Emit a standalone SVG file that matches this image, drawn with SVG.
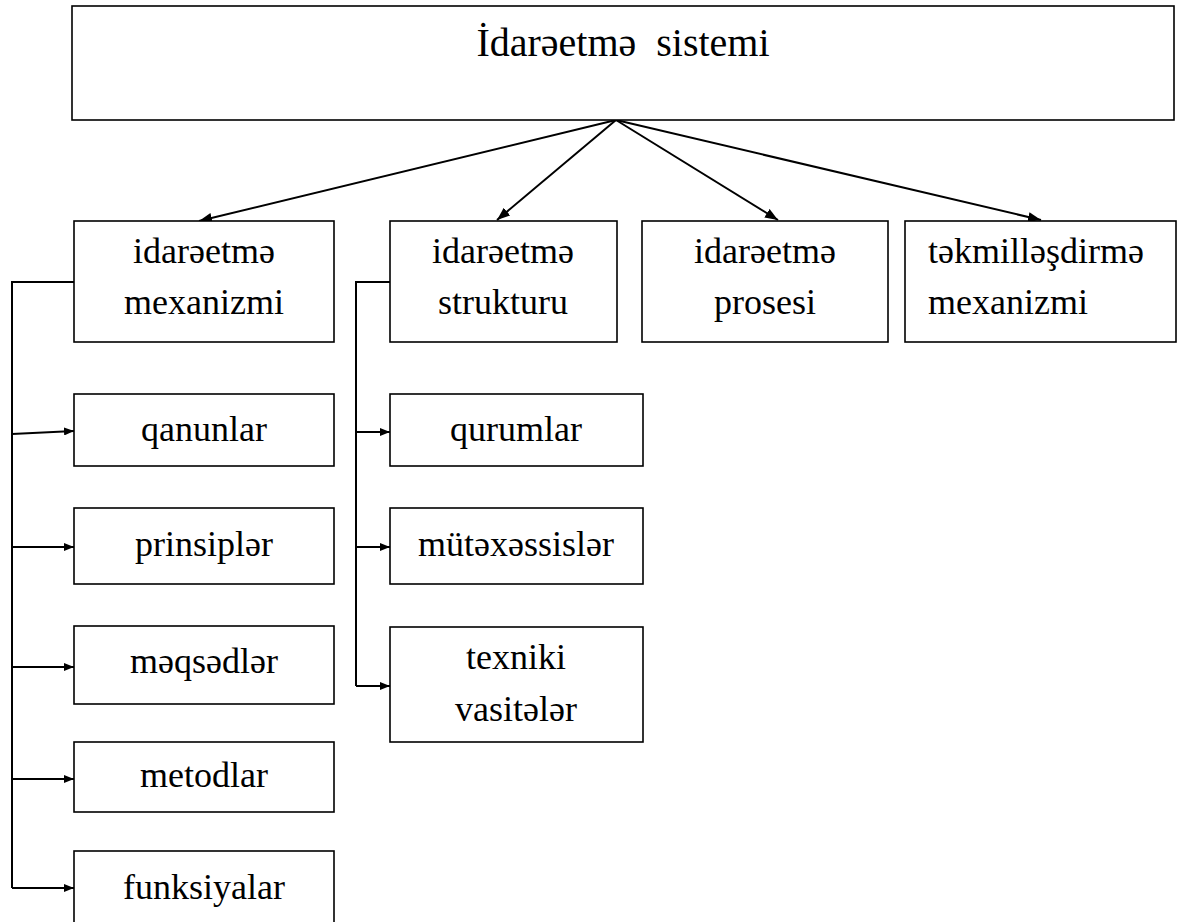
<svg xmlns="http://www.w3.org/2000/svg" width="1178" height="922" viewBox="0 0 1178 922">
<style>
.box{fill:#fff;stroke:#000;stroke-width:1.6}
text{font-family:'Liberation Serif','Times New Roman','DejaVu Serif',serif;font-size:36px;fill:#000;text-anchor:middle}
.tl{text-anchor:start}
.big{font-size:40px}
.c{fill:none;stroke:#000;stroke-width:2}
</style>
<defs>
<marker id="ah" viewBox="0 0 13 10" refX="13" refY="5" markerWidth="13" markerHeight="10" markerUnits="userSpaceOnUse" orient="auto">
<path d="M0,0 L13,5 L0,10 Z" fill="#000"/>
</marker>
<marker id="ahs" viewBox="0 0 10 8" refX="10" refY="4" markerWidth="10" markerHeight="8" markerUnits="userSpaceOnUse" orient="auto">
<path d="M0,0 L10,4 L0,8 Z" fill="#000"/>
</marker>
</defs>

<g id="connectors">
<line class="c" x1="616" y1="120" x2="199" y2="221" marker-end="url(#ah)"/>
<line class="c" x1="616" y1="120" x2="497" y2="220" marker-end="url(#ah)"/>
<line class="c" x1="616" y1="120" x2="778" y2="220" marker-end="url(#ah)"/>
<line class="c" x1="616" y1="120" x2="1041" y2="220" marker-end="url(#ah)"/>
<polyline class="c" points="74,282 12,282 12,888"/>
<line class="c" x1="12" y1="434" x2="74" y2="431" marker-end="url(#ahs)"/>
<line class="c" x1="12" y1="547" x2="74" y2="547" marker-end="url(#ahs)"/>
<line class="c" x1="12" y1="667" x2="74" y2="667" marker-end="url(#ahs)"/>
<line class="c" x1="12" y1="779" x2="74" y2="779" marker-end="url(#ahs)"/>
<line class="c" x1="12" y1="888" x2="74" y2="888" marker-end="url(#ahs)"/>
<polyline class="c" points="390,282 356,282 356,686"/>
<line class="c" x1="356" y1="432" x2="390" y2="432" marker-end="url(#ahs)"/>
<line class="c" x1="356" y1="547" x2="390" y2="547" marker-end="url(#ahs)"/>
<line class="c" x1="356" y1="686" x2="390" y2="686" marker-end="url(#ahs)"/>
</g>

<g id="n-top">
<rect class="box" x="72" y="6" width="1102" height="114"/>
<text class="big" x="623" y="56" font-family="Liberation Serif">İdarəetmə&#160; sistemi</text>
</g>

<g id="n-mexanizm">
<rect class="box" x="74" y="221" width="260" height="121"/>
<text x="204" y="263">idarəetmə</text>
<text x="204" y="314">mexanizmi</text>
</g>
<g id="n-struktur">
<rect class="box" x="390" y="221" width="227" height="121"/>
<text x="503" y="263">idarəetmə</text>
<text x="503" y="314">strukturu</text>
</g>
<g id="n-proses">
<rect class="box" x="642" y="221" width="246" height="121"/>
<text x="765" y="263">idarəetmə</text>
<text x="765" y="314">prosesi</text>
</g>
<g id="n-tekmil">
<rect class="box" x="905" y="221" width="271" height="121"/>
<text class="tl" x="928" y="263">təkmilləşdirmə</text>
<text class="tl" x="928" y="314">mexanizmi</text>
</g>

<g id="n-qanunlar">
<rect class="box" x="74" y="394" width="260" height="72"/>
<text x="204" y="441">qanunlar</text>
</g>
<g id="n-prinsipler">
<rect class="box" x="74" y="508" width="260" height="76"/>
<text x="204" y="556">prinsiplər</text>
</g>
<g id="n-meqsedler">
<rect class="box" x="74" y="626" width="260" height="78"/>
<text x="204" y="673">məqsədlər</text>
</g>
<g id="n-metodlar">
<rect class="box" x="74" y="742" width="260" height="70"/>
<text x="204" y="787">metodlar</text>
</g>
<g id="n-funksiyalar">
<rect class="box" x="74" y="851" width="260" height="80"/>
<text x="204" y="899">funksiyalar</text>
</g>

<g id="n-qurumlar">
<rect class="box" x="390" y="394" width="253" height="72"/>
<text x="516" y="441">qurumlar</text>
</g>
<g id="n-mutexessisler">
<rect class="box" x="390" y="508" width="253" height="76"/>
<text x="516" y="556">mütəxəssislər</text>
</g>
<g id="n-texniki">
<rect class="box" x="390" y="627" width="253" height="115"/>
<text x="516" y="669">texniki</text>
<text x="516" y="721">vasitələr</text>
</g>
</svg>
